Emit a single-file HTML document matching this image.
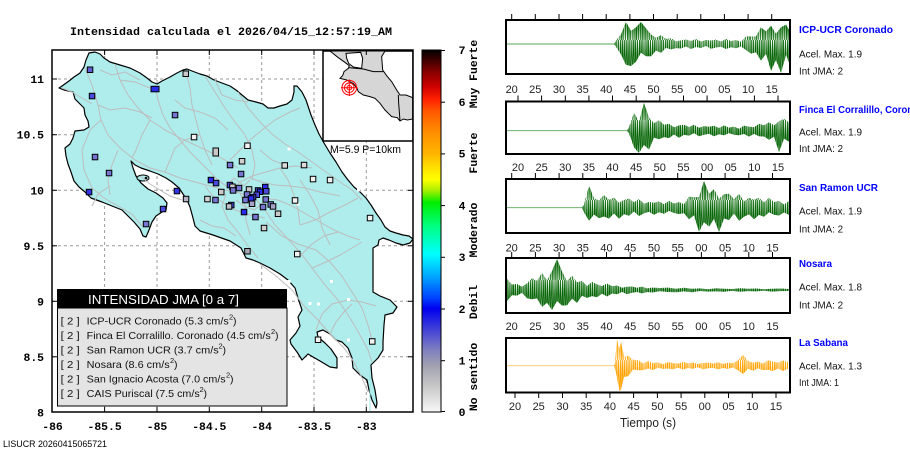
<!DOCTYPE html>
<html><head><meta charset="utf-8"><style>
html,body{margin:0;padding:0;background:#fff;}
svg{display:block;}
.mono{font-family:"Liberation Mono",monospace;font-weight:bold;font-size:11.4px;fill:#000;}
.sans{font-family:"Liberation Sans",sans-serif;}
</style></head><body>
<svg width="910" height="460" viewBox="0 0 910 460" xmlns="http://www.w3.org/2000/svg">
<defs>
<linearGradient id="cb" x1="0" y1="0" x2="0" y2="1">
<stop offset="0" stop-color="#000000"/>
<stop offset="0.021" stop-color="#300000"/>
<stop offset="0.057" stop-color="#800000"/>
<stop offset="0.10" stop-color="#cc0000"/>
<stop offset="0.136" stop-color="#ff2000"/>
<stop offset="0.171" stop-color="#ff5a00"/>
<stop offset="0.229" stop-color="#ff9000"/>
<stop offset="0.286" stop-color="#ffb400"/>
<stop offset="0.321" stop-color="#ffdd00"/>
<stop offset="0.357" stop-color="#ffff00"/>
<stop offset="0.386" stop-color="#b0f000"/>
<stop offset="0.421" stop-color="#00ee00"/>
<stop offset="0.486" stop-color="#00ff80"/>
<stop offset="0.564" stop-color="#00ffff"/>
<stop offset="0.629" stop-color="#00a0ff"/>
<stop offset="0.686" stop-color="#0040ff"/>
<stop offset="0.714" stop-color="#0000ee"/>
<stop offset="0.771" stop-color="#4040d8"/>
<stop offset="0.829" stop-color="#8080c0"/>
<stop offset="0.871" stop-color="#a0a0b0"/>
<stop offset="0.929" stop-color="#c8c8c8"/>
<stop offset="1" stop-color="#f8f8f8"/>
</linearGradient>
<clipPath id="mapclip"><rect x="52" y="50" width="361" height="362"/></clipPath>
<pattern id="gd" width="7.5" height="40" patternUnits="userSpaceOnUse"><path d="M0,0 L0.7,40 L1.9,0 L2.8,40 L3.6,0 L4.9,40 L5.5,0 L6.6,40 L7.5,0" fill="none" stroke="#0a650a" stroke-width="0.75"/></pattern>
<pattern id="gl" width="5.3" height="40" patternUnits="userSpaceOnUse"><path d="M0,40 L1.1,0 L2.6,40 L3.9,0 L5.3,40" fill="none" stroke="#86c486" stroke-width="0.9"/></pattern>
<pattern id="od" width="7.5" height="40" patternUnits="userSpaceOnUse"><path d="M0,0 L0.7,40 L1.9,0 L2.8,40 L3.6,0 L4.9,40 L5.5,0 L6.6,40 L7.5,0" fill="none" stroke="#ffa200" stroke-width="0.75"/></pattern>
<pattern id="ol" width="5.3" height="40" patternUnits="userSpaceOnUse"><path d="M0,40 L1.1,0 L2.6,40 L3.9,0 L5.3,40" fill="none" stroke="#ffd488" stroke-width="0.9"/></pattern>
<clipPath id="e0"><polygon points="614,44 616,40.4 621,34.5 626,22 631,30.9 636,27.4 641,22 646,28.4 651,34.5 656,37.9 661,35.2 666,38.9 671,38.2 676,41.4 681,40.3 686,39.5 691,41 696,39 701,41.5 706,40 711,40.5 716,39.5 721,41.5 726,39 731,41 736,40 741,41.8 746,36.4 751,36.5 756,36.5 761,27.4 766,31.4 771,25.8 776,33.7 781,27.3 786,24.6 790,31.4 790,65 786,54.75 781,73 776,60 771,71 766,53.7 761,60.6 756,52.2 751,53.6 746,50 741,46.5 736,48.25 731,47.25 726,49 721,46.75 716,47.5 711,48.75 706,46 701,48 696,47 691,49 686,46.5 681,48.5 676,48.1 671,49.4 666,47.9 661,52.8 656,50.6 651,56.2 646,56.3 641,52.7 636,61.7 631,66 626,64.7 621,54.5 616,46.8"/></clipPath>
<clipPath id="e1"><polygon points="627,130.7 629,127.1 634,112.9 639,121.5 644,103 649,117.5 654,123.1 659,120.1 664,124.7 669,123.7 674,127.3 679,125.4 684,124.8 689,127 694,124.8 699,127.8 704,126.1 709,126.8 714,125.7 719,128 724,125.4 729,127.6 734,126.6 739,128.7 744,125.6 749,126.6 754,127.2 759,123.8 764,125.3 769,122.2 774,125.4 779,121.3 784,118.8 789,122.4 789,141.8 784,138.6 779,152 774,136.6 769,139.7 764,136.5 759,136.2 754,133.9 749,136.6 744,133.9 739,135.2 734,134.7 729,133.1 724,135.2 719,134.2 714,136.2 709,133.8 704,134.7 699,136.2 694,133.1 689,135.6 684,134.7 679,137.8 674,134.5 669,138.1 664,137.1 659,139.2 654,137.6 649,149.6 644,145 639,153 634,147.4 629,133.4"/></clipPath>
<clipPath id="e2"><polygon points="582,207.7 584,204.5 589,186 594,198.2 599,200.5 604,195.1 609,199.8 614,197.8 619,202.7 624,199.7 629,198.6 634,202.1 639,199 644,203.7 649,201.9 654,202.8 659,201.4 664,204.2 669,200.7 674,203.5 679,202.1 684,204.1 689,196.8 694,197.1 699,197.1 704,181 709,193.9 714,189.1 719,198.7 724,194.3 729,193.7 734,199.1 739,194 744,201.2 749,197.9 754,199.6 759,197.7 764,202.4 769,197.6 774,202.1 779,200.7 784,204.5 789,200.9 789,214.9 784,212.4 779,215.5 774,214.8 769,212.2 764,216.7 759,214.9 754,219.3 749,214.4 744,216.7 739,220.7 734,213.5 729,220.1 724,218.4 719,232 714,218.7 709,226.8 704,222.1 699,232 694,215.3 689,219.2 684,213.1 679,214 674,213 669,210.9 664,213.7 659,212.3 654,214.7 649,211.7 644,213.2 639,216 634,211.5 629,215.8 624,214.1 619,218.8 614,213.5 609,218.6 604,216.5 599,218.2 594,214.5 589,220.7 584,212.5"/></clipPath>
<clipPath id="e3"><polygon points="507,279 512,284.5 517,284 522,286.8 527,283.4 532,278.2 537,280.8 542,273 547,280.2 552,271.1 557,259 562,271.5 567,281.4 572,275.6 577,282.3 582,280.9 587,286 592,281.7 597,284.4 602,286 607,283.55 612,286.2 617,285.5 622,287.8 627,286.8 632,286.5 637,287.8 642,286.6 647,288.4 652,287.6 660,288 668,287.6 676,288.8 684,287.7 692,288.7 700,288.4 708,289.2 716,288.2 724,288.7 732,289 740,288.2 748,288.8 756,288.5 764,289.2 772,288.7 780,288.5 789,289 789,290.9 780,291.1 772,291.6 764,290.7 756,291.4 748,291.1 740,291.8 732,290.9 724,291.7 716,291.4 708,291.6 700,291 692,292.2 684,291.4 676,292.2 668,292 660,291.3 652,292.5 647,292 642,293.4 637,292 632,292.7 627,294.1 622,291.9 617,294.2 612,293.5 607,296.45 602,293.6 597,297.2 592,296.1 587,297.9 582,295.7 577,302.9 572,298.6 567,305.4 562,305.5 557,301 552,310 547,302.7 542,307 537,298.4 532,299.2 527,298.3 522,292.8 517,295.6 512,295.1 507,301"/></clipPath>
<clipPath id="e4"><polygon points="614,365.7 615,363.3 617,339 619,350.1 621,341.7 624,357.1 628,355.8 633,359.7 638,360.3 643,363.3 648,361.1 653,363.1 658,362.4 663,364.1 668,362 673,363 678,363.6 683,361.9 688,363.2 693,362.5 698,364 703,363 708,362.5 713,363.6 718,362.2 723,363.9 728,362.7 733,363 738,360.3 743,355 748,360.7 753,362.7 758,361.5 763,363.5 768,360.1 773,361.6 778,362.6 783,360.35 788,362.4 788,368.8 783,371.05 778,368.5 773,371 768,369.8 763,370.1 758,368.3 753,370.7 748,368.7 743,374 738,370.2 733,367.5 728,368.9 723,368 718,369.2 713,367.7 708,368.2 703,369.2 698,367.2 693,368.7 688,368 683,369.5 678,367.6 673,369.2 668,368.45 663,368.9 658,367.7 653,370.05 648,368.5 643,370.1 638,370.2 633,369.5 628,376.2 624,376.9 621,389.7 619,391 617,377.3 615,368.7"/></clipPath>
</defs>

<!-- Title -->
<text class="mono" x="70" y="35" textLength="322" lengthAdjust="spacingAndGlyphs">Intensidad calculada el 2026/04/15_12:57:19_AM</text>

<!-- MAP -->
<g clip-path="url(#mapclip)">
<rect x="52" y="50" width="361" height="362" fill="#fff"/>
<g stroke="#9a9a9a" stroke-width="1" stroke-dasharray="3,3" fill="none">
<line x1="104.6" y1="50" x2="104.6" y2="412"/>
<line x1="157" y1="50" x2="157" y2="412"/>
<line x1="209.3" y1="50" x2="209.3" y2="412"/>
<line x1="261.7" y1="50" x2="261.7" y2="412"/>
<line x1="314" y1="50" x2="314" y2="412"/>
<line x1="366.3" y1="50" x2="366.3" y2="412"/>
<line x1="52" y1="79" x2="413" y2="79"/>
<line x1="52" y1="134.7" x2="413" y2="134.7"/>
<line x1="52" y1="190.3" x2="413" y2="190.3"/>
<line x1="52" y1="245.8" x2="413" y2="245.8"/>
<line x1="52" y1="301.3" x2="413" y2="301.3"/>
<line x1="52" y1="356.8" x2="413" y2="356.8"/>
</g>
<polygon fill="#afeded" stroke="#000" stroke-width="1.2" stroke-linejoin="round" points="89,53 95,52 100,54 104,58 110,62 120,65 130,68 140,73 147,78 152,82 157,84 162,81 170,77 177,73 183,70 187,69 192,71 200,74 207,76 214,80 222,83 230,86 236,90 242,95 248,100 256,102 263,104 268,108 274,108 280,106 287,104 292,100 294,92 294,86 297,86 302,92 306,100 311,115 315,125 319,134 324,143 330,153 336,162 342,172 348,180 354,187 360,192 366,198 371,205 376,213 381,220 385,227 390,231 396,233 403,235 409,236 413,239 410,243 403,245 396,243 389,240 383,238 379,240 378,245 373,248 373,292 380,296 390,300 397,307 393,313 385,315 384,325 383,342 383,350 378,358 371,365 372,378 375,390 377,403 376,408 372,400 369,390 367,380 360,375 353,368 352,358 348,348 342,342 336,340 330,334 323,330 317,332 318,337 325,343 331,349 337,358 337,368 330,367 320,361 313,357 308,354 302,360 297,352 291,344 290,340 296,333 300,326 298,317 302,310 298,298 295,288 288,280 280,274 270,268 260,263 253,260 246,258 241,248 230,241 213,235 200,231 195,226 193,218 190,207 187,200 183,194 179,188 172,182 166,178 158,174 150,171 141,168 135,165 131,161 133,168 136,176 141,183 148,189 156,193 163,198 167,203 166,210 162,212 156,216 152,222 149,230 146,237 143,236 140,229 134,222 128,216 122,210 112,206 102,202 91,198 85,192 79,187 74,181 71,172 68,164 66,156 65,148 70,144 73,138 75,131 84,130 89,127 88,121 85,115 84,108 79,103 75,99 73,92 64,90 59,88 62,86 69,81 74,77 80,73 84,67 86,60"/>
<ellipse cx="143" cy="178" rx="6" ry="3" fill="#afeded" stroke="#000" stroke-width="1"/>
<circle cx="146" cy="178" r="1.3" fill="#000"/>
<line x1="370" y1="365" x2="370" y2="412" stroke="#9fe8e8" stroke-width="1"/>
<g stroke="#bdbdbd" stroke-width="1" fill="none">
<polyline points="85,68 92,85 98,105 101,120 108,135 120,148 135,160 150,168 165,172 180,178 195,182 210,186 225,190 240,193 255,198 265,210 275,225 287,238 300,252 312,268 325,285 338,300 350,318 360,335 368,350 372,362"/>
<polyline points="101,120 90,130 82,150 84,170 92,188 104,198 118,206 132,214 142,226"/>
<polyline points="98,105 110,110 125,108 140,112 152,118"/>
<polyline points="115,64 120,80 128,95 138,108 150,120 165,130 180,138 195,145 210,152 225,160 238,168"/>
<polyline points="155,85 158,100 163,115 170,128 180,140 190,152 200,162 210,172 218,180"/>
<polyline points="186,72 190,88 192,105 196,120 200,135 205,150 212,165"/>
<polyline points="205,76 215,92 225,108 235,122 245,135 252,150 255,165 252,180"/>
<polyline points="238,92 248,108 260,122 272,134 285,144 298,152 312,162 326,172 340,182 352,190 362,200"/>
<polyline points="230,192 240,182 252,176 266,172 280,168 295,166 312,168"/>
<polyline points="262,198 278,200 292,206 306,214 320,222 334,230 348,236 360,240"/>
<polyline points="266,222 282,236 298,244 316,250 330,262 342,276 352,292 362,308 368,325 372,340"/>
<polyline points="300,256 312,244 324,236 338,232"/>
<polyline points="226,194 222,206 228,220 238,232 248,246 258,258"/>
<polyline points="62,88 72,92 82,98 92,104"/>
<polyline points="110,186 98,194 92,206"/>
<polyline points="260,264 276,276 292,290 304,306 318,320 332,336 344,348 354,362 362,378 368,392"/>
<polyline points="316,330 322,314 332,304 348,300 362,302 376,306"/>
<polyline points="140,176 150,184 160,190 170,196 182,200"/>
<polyline points="118,150 112,165 108,180 110,195"/>
<polyline points="165,172 170,160 175,148 185,140 200,135"/>
<polyline points="205,186 212,195 222,202 235,210 250,215 265,218"/>
<polyline points="240,193 245,205 246,220 250,235"/>
<polyline points="280,168 288,180 294,195 298,210 300,225"/>
<polyline points="300,225 315,220 330,212 345,205 358,198"/>
<polyline points="312,268 326,262 340,255 352,248 362,242"/>
<polyline points="300,180 310,195 318,210 322,228 330,245"/>
<polyline points="150,120 142,135 136,150 132,158"/>
<polyline points="120,80 135,82 150,88"/>
<polyline points="215,80 222,95 235,100 248,102"/>
<polyline points="230,160 240,150 250,140 262,130 275,120 290,112 300,108"/>
<polyline points="250,178 262,182 275,185 290,186 305,188 320,192 340,196"/>
<polyline points="218,180 226,186 234,178 244,186 250,180"/>
<polyline points="236,200 244,206 254,210 262,204 270,198"/>
<polyline points="200,220 212,226 224,228 236,236"/>
<polyline points="330,334 336,322 344,312 352,304"/>
<polyline points="100,70 112,75 125,72 140,80"/>
<polyline points="175,100 185,108 200,112 215,118 228,130"/>
<polyline points="260,150 272,160 285,165"/>
</g>
<g fill="#fff">
<rect x="287.5" y="147.5" width="3" height="3"/>
<rect x="287.5" y="280" width="3" height="3"/>
<rect x="330" y="280" width="3" height="3"/>
<rect x="347" y="298" width="3" height="3"/>
<rect x="308.5" y="302" width="3" height="3"/>
<rect x="317" y="302.5" width="3" height="3"/>
<rect x="347" y="338.5" width="3" height="3"/>
<rect x="357" y="188.5" width="3" height="3"/>
<rect x="296.5" y="202.5" width="3" height="3"/>
</g>
<g stroke="#000" stroke-width="1">
<rect x="87.3" y="67" width="5.5" height="5.5" fill="#6060d4"/>
<rect x="183" y="71" width="5.5" height="5.5" fill="#c8c8c8"/>
<rect x="151" y="86.3" width="8" height="5.5" fill="#2b2bea"/>
<rect x="89.3" y="93.3" width="5.5" height="5.5" fill="#4a4ade"/>
<rect x="172.3" y="112.3" width="5.5" height="5.5" fill="#7676d2"/>
<rect x="191.3" y="134.3" width="5.5" height="5.5" fill="#f2f2f2"/>
<rect x="213" y="148" width="5.5" height="8" fill="#c8c8c8"/>
<rect x="92.3" y="154.3" width="5.5" height="5.5" fill="#7676d2"/>
<rect x="106.3" y="170.3" width="5.5" height="5.5" fill="#7676d2"/>
<rect x="86.3" y="189.3" width="5.5" height="5.5" fill="#3535e6"/>
<rect x="174.2" y="188.3" width="5.5" height="5.5" fill="#3535e6"/>
<rect x="160.3" y="206.3" width="5.5" height="5.5" fill="#4a4ade"/>
<rect x="143.3" y="221.3" width="5.5" height="5.5" fill="#7676d2"/>
<rect x="183.3" y="196.3" width="5.5" height="5.5" fill="#b4b4c4"/>
<rect x="244.7" y="143" width="5.5" height="5.5" fill="#f2f2f2"/>
<rect x="239.3" y="158.5" width="5.5" height="5.5" fill="#d0d0d0"/>
<rect x="227.3" y="162.3" width="5.5" height="5.5" fill="#7676d2"/>
<rect x="282" y="162.7" width="5.5" height="5.5" fill="#dcdcdc"/>
<rect x="301.3" y="162.3" width="5.5" height="5.5" fill="#dcdcdc"/>
<rect x="238.3" y="171.3" width="5.5" height="5.5" fill="#7676d2"/>
<rect x="310.3" y="176.3" width="5.5" height="5.5" fill="#f2f2f2"/>
<rect x="327.3" y="177.3" width="5.5" height="5.5" fill="#f2f2f2"/>
<rect x="208.2" y="177.3" width="5.5" height="5.5" fill="#2b2bea"/>
<rect x="213.3" y="180.3" width="5.5" height="5.5" fill="#4a4ade"/>
<rect x="227.2" y="182.3" width="5.5" height="5.5" fill="#4a4ade"/>
<rect x="229.7" y="184" width="5.5" height="5.5" fill="#c8c8c8"/>
<rect x="236.3" y="185.3" width="5.5" height="5.5" fill="#7676d2"/>
<rect x="230.3" y="187.7" width="5.5" height="5.5" fill="#7676d2"/>
<rect x="246.3" y="186.7" width="5.5" height="5.5" fill="#c8c8c8"/>
<rect x="218.5" y="189.3" width="5.5" height="5.5" fill="#c8c8c8"/>
<rect x="255.3" y="187.7" width="5.5" height="5.5" fill="#4a4ade"/>
<rect x="257.3" y="189" width="5.5" height="5.5" fill="#2b2bea"/>
<rect x="262.5" y="184.3" width="5.5" height="5.5" fill="#2b2bea"/>
<rect x="263.5" y="188.5" width="5.5" height="5.5" fill="#4a4ade"/>
<rect x="244.3" y="191.7" width="5.5" height="5.5" fill="#7676d2"/>
<rect x="254" y="192" width="5.5" height="5.5" fill="#4a4ade"/>
<rect x="250.3" y="194.3" width="5.5" height="5.5" fill="#4a4ade"/>
<rect x="248.3" y="195.7" width="5.5" height="5.5" fill="#2b2bea"/>
<rect x="242.7" y="197.3" width="5.5" height="5.5" fill="#7676d2"/>
<rect x="263" y="196.7" width="5.5" height="5.5" fill="#7676d2"/>
<rect x="204.7" y="196.3" width="5.5" height="5.5" fill="#d4d4d4"/>
<rect x="212.7" y="197.3" width="5.5" height="5.5" fill="#7676d2"/>
<rect x="249.3" y="201" width="5.5" height="5.5" fill="#a4a4c6"/>
<rect x="268" y="201.7" width="5.5" height="5.5" fill="#7676d2"/>
<rect x="270.3" y="203.7" width="5.5" height="5.5" fill="#a4a4c6"/>
<rect x="260.3" y="204.3" width="5.5" height="5.5" fill="#7676d2"/>
<rect x="275.3" y="211" width="5.5" height="5.5" fill="#c8c8c8"/>
<rect x="228.5" y="202.3" width="5.5" height="5.5" fill="#4a4ade"/>
<rect x="226.3" y="203.7" width="5.5" height="5.5" fill="#c0c0c8"/>
<rect x="292.3" y="197.7" width="5.5" height="5.5" fill="#f2f2f2"/>
<rect x="241.3" y="209.3" width="5.5" height="5.5" fill="#2b2bea"/>
<rect x="252.7" y="214.3" width="5.5" height="5.5" fill="#7676d2"/>
<rect x="261.3" y="225.3" width="5.5" height="5.5" fill="#d0d0d0"/>
<rect x="244.7" y="248.5" width="5.5" height="5.5" fill="#a8a8b8"/>
<rect x="294.5" y="251.3" width="5.5" height="5.5" fill="#f2f2f2"/>
<rect x="367.3" y="215.3" width="5.5" height="5.5" fill="#f2f2f2"/>
<rect x="315.3" y="337" width="5.5" height="5.5" fill="#f2f2f2"/>
<rect x="369.5" y="338.7" width="5.5" height="5.5" fill="#f2f2f2"/>
</g>
<!-- inset -->
<rect x="323" y="51" width="90" height="90" fill="#fff" stroke="#000" stroke-width="1.5"/>
<g transform="translate(320,45) scale(0.3333)">
<polygon fill="#d6d6d6" stroke="#000" stroke-width="3" points="30,18 195,18 185,35 188,75 200,92 215,110 230,135 240,150 258,150 278,158 278,222 262,225 250,222 240,228 232,218 215,215 205,205 195,195 180,175 165,160 150,155 130,150 115,140 110,128 100,116 80,105 60,100 68,92 72,80 85,70 88,62 72,50 55,38"/>
<polygon fill="#fff" stroke="#000" stroke-width="3" points="78,25 122,22 128,40 125,70 100,66 86,55 80,40"/>
<polyline fill="none" stroke="#000" stroke-width="3" points="85,68 130,72 160,80 190,80"/>
<polyline fill="none" stroke="#000" stroke-width="3" points="235,150 236,175 238,200 240,228"/>
</g>
<g stroke="#ff0000" stroke-width="1" fill="none">
<circle cx="349.3" cy="87.7" r="2.3"/>
<circle cx="349.3" cy="87.7" r="4.8"/>
<circle cx="349.3" cy="87.7" r="7.3"/>
<line x1="341" y1="87.7" x2="357.6" y2="87.7"/>
<line x1="349.3" y1="79.4" x2="349.3" y2="96"/>
</g>
<text class="sans" x="330" y="153" font-size="11" textLength="71" lengthAdjust="spacingAndGlyphs" fill="#000">M=5.9 P=10km</text>
</g>
<rect x="52" y="50" width="361" height="362" fill="none" stroke="#000" stroke-width="1.5"/>
<g stroke="#000" stroke-width="1">
<line x1="104.6" y1="50" x2="104.6" y2="55"/><line x1="157" y1="50" x2="157" y2="55"/><line x1="209.3" y1="50" x2="209.3" y2="55"/><line x1="261.7" y1="50" x2="261.7" y2="55"/><line x1="314" y1="50" x2="314" y2="55"/><line x1="366.3" y1="50" x2="366.3" y2="55"/>
<line x1="104.6" y1="412" x2="104.6" y2="407"/><line x1="157" y1="412" x2="157" y2="407"/><line x1="209.3" y1="412" x2="209.3" y2="407"/><line x1="261.7" y1="412" x2="261.7" y2="407"/><line x1="314" y1="412" x2="314" y2="407"/><line x1="366.3" y1="412" x2="366.3" y2="407"/>
<line x1="52" y1="79" x2="57" y2="79"/><line x1="52" y1="134.7" x2="57" y2="134.7"/><line x1="52" y1="190.3" x2="57" y2="190.3"/><line x1="52" y1="245.8" x2="57" y2="245.8"/><line x1="52" y1="301.3" x2="57" y2="301.3"/><line x1="52" y1="356.8" x2="57" y2="356.8"/>
<line x1="413" y1="190.3" x2="408" y2="190.3"/><line x1="413" y1="245.8" x2="408" y2="245.8"/><line x1="413" y1="301.3" x2="408" y2="301.3"/><line x1="413" y1="356.8" x2="408" y2="356.8"/>
</g>
<g class="mono" text-anchor="end">
<text x="44" y="83">11</text>
<text x="44" y="138.7">10.5</text>
<text x="44" y="194.3">10</text>
<text x="44" y="249.8">9.5</text>
<text x="44" y="305.3">9</text>
<text x="44" y="360.8">8.5</text>
<text x="44" y="416.3">8</text>
</g>
<g class="mono" text-anchor="middle">
<text x="52.5" y="430">-86</text>
<text x="104.6" y="430">-85.5</text>
<text x="157" y="430">-85</text>
<text x="209.3" y="430">-84.5</text>
<text x="261.7" y="430">-84</text>
<text x="314" y="430">-83.5</text>
<text x="366.3" y="430">-83</text>
</g>
<text class="sans" x="3" y="447" font-size="9" textLength="104" lengthAdjust="spacingAndGlyphs" fill="#000">LISUCR 20260415065721</text>

<!-- legend -->
<rect x="57" y="289" width="230" height="19" fill="#000"/>
<rect x="57.5" y="308" width="229.5" height="98" fill="#e4e4e4" stroke="#000" stroke-width="1"/>
<text class="sans" x="88" y="304" font-size="13" fill="#fff" textLength="151" lengthAdjust="spacingAndGlyphs">INTENSIDAD JMA [0 a 7]</text>
<g class="sans" font-size="10.5" fill="#111">
<text x="60.7" y="324.5" textLength="19" lengthAdjust="spacingAndGlyphs">[ 2 ]</text>
<text x="60.7" y="339" textLength="19" lengthAdjust="spacingAndGlyphs">[ 2 ]</text>
<text x="60.7" y="353.5" textLength="19" lengthAdjust="spacingAndGlyphs">[ 2 ]</text>
<text x="60.7" y="368" textLength="19" lengthAdjust="spacingAndGlyphs">[ 2 ]</text>
<text x="60.7" y="382.5" textLength="19" lengthAdjust="spacingAndGlyphs">[ 2 ]</text>
<text x="60.7" y="397" textLength="19" lengthAdjust="spacingAndGlyphs">[ 2 ]</text>
<text x="86.7" y="324.5" textLength="142" lengthAdjust="spacingAndGlyphs">ICP-UCR Coronado (5.3 cm/s</text><text x="229" y="319.5" font-size="7.5">2</text><text x="233" y="324.5">)</text>
<text x="86.7" y="339" textLength="184" lengthAdjust="spacingAndGlyphs">Finca El Corralillo. Coronado (4.5 cm/s</text><text x="271" y="334" font-size="7.5">2</text><text x="275" y="339">)</text>
<text x="86.7" y="353.5" textLength="132" lengthAdjust="spacingAndGlyphs">San Ramon UCR (3.7 cm/s</text><text x="218.5" y="348.5" font-size="7.5">2</text><text x="222.5" y="353.5">)</text>
<text x="86.7" y="368" textLength="83" lengthAdjust="spacingAndGlyphs">Nosara (8.6 cm/s</text><text x="170" y="363" font-size="7.5">2</text><text x="174" y="368">)</text>
<text x="86.7" y="382.5" textLength="139" lengthAdjust="spacingAndGlyphs">San Ignacio Acosta (7.0 cm/s</text><text x="226" y="377.5" font-size="7.5">2</text><text x="230" y="382.5">)</text>
<text x="86.7" y="397" textLength="113" lengthAdjust="spacingAndGlyphs">CAIS Puriscal (7.5 cm/s</text><text x="199.5" y="392" font-size="7.5">2</text><text x="203.5" y="397">)</text>
</g>

<!-- colorbar -->
<rect x="422" y="50" width="19" height="362" fill="url(#cb)" stroke="#000" stroke-width="1"/>
<g stroke="#000" stroke-width="1">
<line x1="441" y1="50.5" x2="445" y2="50.5"/><line x1="441" y1="102.2" x2="445" y2="102.2"/><line x1="441" y1="153.9" x2="445" y2="153.9"/><line x1="441" y1="205.6" x2="445" y2="205.6"/><line x1="441" y1="257.3" x2="445" y2="257.3"/><line x1="441" y1="309" x2="445" y2="309"/><line x1="441" y1="360.7" x2="445" y2="360.7"/><line x1="441" y1="411.5" x2="445" y2="411.5"/>
</g>
<g class="mono" text-anchor="middle">
<text x="462" y="54">7</text>
<text x="462" y="106">6</text>
<text x="462" y="157.5">5</text>
<text x="462" y="209.5">4</text>
<text x="462" y="261">3</text>
<text x="462" y="313">2</text>
<text x="462" y="364.5">1</text>
<text x="462" y="416">0</text>
</g>
<g class="mono" text-anchor="middle">
<text transform="translate(477,74) rotate(-90)">Muy Fuerte</text>
<text transform="translate(477,153) rotate(-90)">Fuerte</text>
<text transform="translate(477,230) rotate(-90)">Moderado</text>
<text transform="translate(477,302) rotate(-90)">Debil</text>
<text transform="translate(477,377) rotate(-90)">No sentido</text>
</g>

<!-- SEISMOGRAMS -->
<g stroke-width="0.9" fill="none">
<line x1="507" y1="44" x2="617" y2="44" stroke="#5aa65a"/>
<line x1="507" y1="130.7" x2="630" y2="130.7" stroke="#5aa65a"/>
<line x1="507" y1="207.7" x2="585" y2="207.7" stroke="#5aa65a"/>
<line x1="650" y1="290" x2="789" y2="290" stroke="#2a7a2a" stroke-width="0.7"/>
<line x1="507" y1="365.7" x2="616" y2="365.7" stroke="#ffc866"/>
</g>
<rect x="506" y="20" width="284" height="54" fill="url(#gl)" clip-path="url(#e0)"/>
<rect x="506" y="20" width="284" height="54" fill="url(#gd)" clip-path="url(#e0)"/>
<rect x="506" y="101" width="284" height="54" fill="url(#gl)" clip-path="url(#e1)"/>
<rect x="506" y="101" width="284" height="54" fill="url(#gd)" clip-path="url(#e1)"/>
<rect x="506" y="179" width="284" height="54" fill="url(#gl)" clip-path="url(#e2)"/>
<rect x="506" y="179" width="284" height="54" fill="url(#gd)" clip-path="url(#e2)"/>
<rect x="506" y="258" width="284" height="55" fill="url(#gl)" clip-path="url(#e3)"/>
<rect x="506" y="258" width="284" height="55" fill="url(#gd)" clip-path="url(#e3)"/>
<rect x="506" y="338" width="284" height="55" fill="url(#ol)" clip-path="url(#e4)"/>
<rect x="506" y="338" width="284" height="55" fill="url(#od)" clip-path="url(#e4)"/>
<g fill="none" stroke="#000" stroke-width="2">
<rect x="506" y="20" width="284" height="54"/>
<rect x="506" y="101.5" width="284" height="52.5"/>
<rect x="506" y="179" width="284" height="54"/>
<rect x="506" y="258" width="284" height="55"/>
<rect x="506" y="338" width="284" height="54.5"/>
</g>
<g stroke="#000" stroke-width="1" fill="none">
<path d="M511.7,14v6M535.3,14v6M559,14v6M582.6,14v6M606.2,14v6M629.9,14v6M653.5,14v6M677.2,14v6M700.8,14v6M724.4,14v6M748.1,14v6M771.7,14v6"/>
<path d="M518,95.5v6M541.6,95.5v6M565.3,95.5v6M588.9,95.5v6M612.5,95.5v6M636.2,95.5v6M659.8,95.5v6M683.5,95.5v6M707.1,95.5v6M730.7,95.5v6M754.4,95.5v6M778,95.5v6"/>
<path d="M511.7,173v6M535.4,173v6M559.1,173v6M582.8,173v6M606.5,173v6M630.2,173v6M654,173v6M677.7,173v6M701.4,173v6M725.1,173v6M748.8,173v6M772.5,173v6"/>
<path d="M511.7,252v6M535.4,252v6M559.1,252v6M582.8,252v6M606.5,252v6M630.2,252v6M654,252v6M677.7,252v6M701.4,252v6M725.1,252v6M748.8,252v6M772.5,252v6"/>
<path d="M515,392.5v5.5M538.7,392.5v5.5M562.5,392.5v5.5M586.2,392.5v5.5M609.9,392.5v5.5M633.6,392.5v5.5M657.4,392.5v5.5M681.1,392.5v5.5M704.8,392.5v5.5M728.5,392.5v5.5M752.3,392.5v5.5M776,392.5v5.5"/>
</g>
<g class="sans" font-size="11" fill="#222" text-anchor="middle">
<text x="511.7" y="93">20</text><text x="535.3" y="93">25</text><text x="559" y="93">30</text><text x="582.6" y="93">35</text><text x="606.2" y="93">40</text><text x="629.9" y="93">45</text><text x="653.5" y="93">50</text><text x="677.2" y="93">55</text><text x="700.8" y="93">00</text><text x="724.4" y="93">05</text><text x="748.1" y="93">10</text><text x="771.7" y="93">15</text>
<text x="518" y="171">20</text><text x="541.6" y="171">25</text><text x="565.3" y="171">30</text><text x="588.9" y="171">35</text><text x="612.5" y="171">40</text><text x="636.2" y="171">45</text><text x="659.8" y="171">50</text><text x="683.5" y="171">55</text><text x="707.1" y="171">00</text><text x="730.7" y="171">05</text><text x="754.4" y="171">10</text><text x="778" y="171">15</text>
<text x="511.7" y="251.5">20</text><text x="535.4" y="251.5">25</text><text x="559.1" y="251.5">30</text><text x="582.8" y="251.5">35</text><text x="606.5" y="251.5">40</text><text x="630.2" y="251.5">45</text><text x="654" y="251.5">50</text><text x="677.7" y="251.5">55</text><text x="701.4" y="251.5">00</text><text x="725.1" y="251.5">05</text><text x="748.8" y="251.5">10</text><text x="772.5" y="251.5">15</text>
<text x="511.7" y="330">20</text><text x="535.4" y="330">25</text><text x="559.1" y="330">30</text><text x="582.8" y="330">35</text><text x="606.5" y="330">40</text><text x="630.2" y="330">45</text><text x="654" y="330">50</text><text x="677.7" y="330">55</text><text x="701.4" y="330">00</text><text x="725.1" y="330">05</text><text x="748.8" y="330">10</text><text x="772.5" y="330">15</text>
<text x="515" y="410">20</text><text x="538.7" y="410">25</text><text x="562.5" y="410">30</text><text x="586.2" y="410">35</text><text x="609.9" y="410">40</text><text x="633.6" y="410">45</text><text x="657.4" y="410">50</text><text x="681.1" y="410">55</text><text x="704.8" y="410">00</text><text x="728.5" y="410">05</text><text x="752.3" y="410">10</text><text x="776" y="410">15</text>
</g>
<text class="sans" x="648" y="427" font-size="13" fill="#222" text-anchor="middle" textLength="56" lengthAdjust="spacingAndGlyphs">Tiempo (s)</text>

<g class="sans" font-size="10.5">
<text x="799" y="33" font-weight="bold" fill="#0000ff" textLength="94" lengthAdjust="spacingAndGlyphs">ICP-UCR Coronado</text>
<text x="799" y="57.5" fill="#111" textLength="63" lengthAdjust="spacingAndGlyphs">Acel. Max. 1.9</text>
<text x="799" y="74.5" fill="#111" textLength="44" lengthAdjust="spacingAndGlyphs">Int JMA: 2</text>
<text x="799" y="113" font-weight="bold" fill="#0000ff" textLength="131" lengthAdjust="spacingAndGlyphs">Finca El Corralillo, Coronado</text>
<text x="799" y="135.5" fill="#111" textLength="63" lengthAdjust="spacingAndGlyphs">Acel. Max. 1.9</text>
<text x="799" y="152" fill="#111" textLength="44" lengthAdjust="spacingAndGlyphs">Int JMA: 2</text>
<text x="799" y="191" font-weight="bold" fill="#0000ff" textLength="79" lengthAdjust="spacingAndGlyphs">San Ramon UCR</text>
<text x="799" y="214.5" fill="#111" textLength="63" lengthAdjust="spacingAndGlyphs">Acel. Max. 1.9</text>
<text x="799" y="232.5" fill="#111" textLength="44" lengthAdjust="spacingAndGlyphs">Int JMA: 2</text>
<text x="799" y="267" font-weight="bold" fill="#0000ff" textLength="33" lengthAdjust="spacingAndGlyphs">Nosara</text>
<text x="799" y="290.5" fill="#111" textLength="63" lengthAdjust="spacingAndGlyphs">Acel. Max. 1.8</text>
<text x="799" y="308.5" fill="#111" textLength="44" lengthAdjust="spacingAndGlyphs">Int JMA: 2</text>
<text x="799" y="346" font-weight="bold" fill="#0000ff" textLength="49" lengthAdjust="spacingAndGlyphs">La Sabana</text>
<text x="799" y="369.5" fill="#111" textLength="63" lengthAdjust="spacingAndGlyphs">Acel. Max. 1.3</text>
<text x="799" y="386" fill="#111" textLength="40" lengthAdjust="spacingAndGlyphs">Int JMA: 1</text>
</g>
</svg>
</body></html>
